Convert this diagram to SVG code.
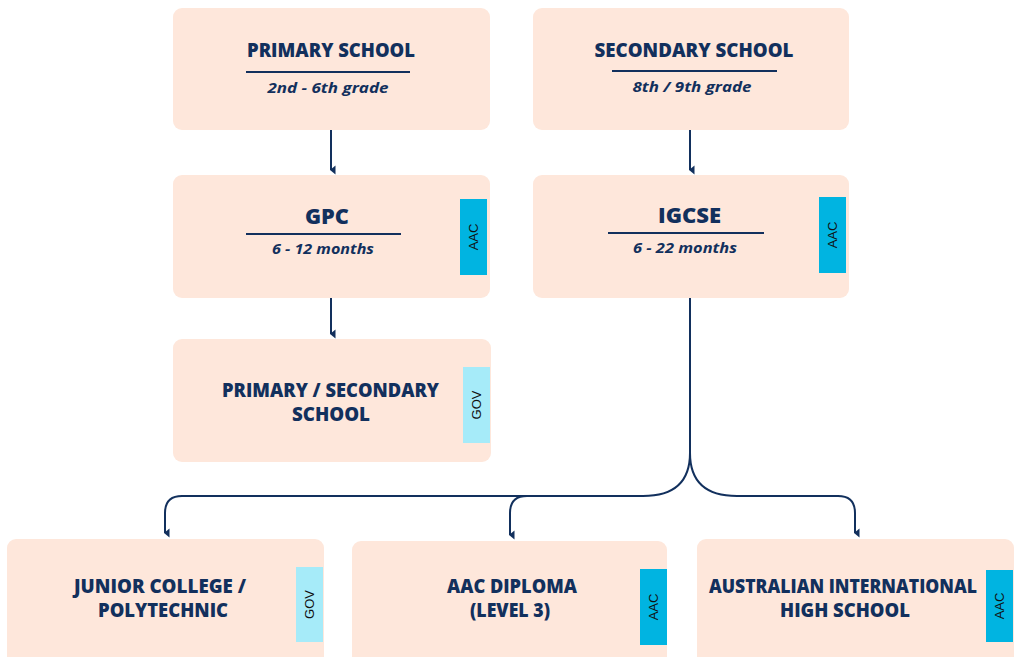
<svg xmlns="http://www.w3.org/2000/svg" width="1020" height="657" viewBox="0 0 1020 657">
<style>
.box{fill:#FEE7DB}
.t{font-family:"Open Sans","Liberation Sans",sans-serif;font-weight:800;fill:#12305D;text-anchor:middle}
.title{font-size:19px}
.big{font-size:21px}
.sub{font-size:14.5px;font-style:italic;font-weight:700}
.ul{stroke:#12305D;stroke-width:2}
.aac{fill:#00B4E1}
.gov{fill:#A6EBF9}
.tag{font-family:"Liberation Sans",Arial,sans-serif;font-size:13px;fill:#111;text-anchor:middle}
.c{fill:none;stroke:#12305D;stroke-width:2}
</style>
<defs>
<marker id="ah" markerWidth="10" markerHeight="8" refX="5" refY="6" orient="auto" markerUnits="userSpaceOnUse" viewBox="0 0 10 8">
<path d="M0.5,1.5 L9.5,1.5 L5,7 Z" fill="#12305D"/>
</marker>
</defs>
<rect width="1020" height="657" fill="#FFFFFF"/>

<g id="connectors">
<path class="c" d="M331,130 V170" marker-end="url(#ah)"/>
<path class="c" d="M690,130 V170" marker-end="url(#ah)"/>
<path class="c" d="M331,298 V334" marker-end="url(#ah)"/>
<path class="c" d="M690,298 V453 Q690,496 643,496 H182 Q165,496 165,513 V533" marker-end="url(#ah)"/>
<path class="c" d="M527,496 Q510,496 510,513 V535" marker-end="url(#ah)"/>
<path class="c" d="M690,453 Q690,496 737,496 H838 Q855,496 855,513 V533" marker-end="url(#ah)"/>
</g>

<g id="primary-school">
<rect class="box" x="173" y="8" width="317" height="122" rx="9"/>
<text class="t title" x="331" y="57" textLength="168" lengthAdjust="spacingAndGlyphs">PRIMARY SCHOOL</text>
<line class="ul" x1="246" y1="72" x2="410" y2="72"/>
<text class="t sub" x="328" y="93" textLength="121" lengthAdjust="spacingAndGlyphs">2nd - 6th grade</text>
</g>

<g id="secondary-school">
<rect class="box" x="533" y="8" width="316" height="122" rx="9"/>
<text class="t title" x="694" y="57" textLength="199" lengthAdjust="spacingAndGlyphs">SECONDARY SCHOOL</text>
<line class="ul" x1="612" y1="71" x2="777" y2="71"/>
<text class="t sub" x="692" y="92" textLength="119" lengthAdjust="spacingAndGlyphs">8th / 9th grade</text>
</g>

<g id="gpc">
<rect class="box" x="173" y="175" width="317" height="123" rx="9"/>
<text class="t big" x="327" y="224" textLength="44" lengthAdjust="spacingAndGlyphs">GPC</text>
<line class="ul" x1="246" y1="234" x2="401" y2="234"/>
<text class="t sub" x="323" y="254" textLength="102" lengthAdjust="spacingAndGlyphs">6 - 12 months</text>
<rect class="aac" x="460" y="199" width="27" height="76"/>
<text class="tag" transform="translate(477.5,237) rotate(-90)">AAC</text>
</g>

<g id="igcse">
<rect class="box" x="533" y="175" width="316" height="123" rx="9"/>
<text class="t big" x="689.5" y="223" textLength="63" lengthAdjust="spacingAndGlyphs">IGCSE</text>
<line class="ul" x1="608" y1="233" x2="764" y2="233"/>
<text class="t sub" x="685" y="253" textLength="104" lengthAdjust="spacingAndGlyphs">6 - 22 months</text>
<rect class="aac" x="819" y="197" width="27" height="76"/>
<text class="tag" transform="translate(836.5,235) rotate(-90)">AAC</text>
</g>

<g id="primary-secondary-school">
<rect class="box" x="173" y="339" width="318" height="123" rx="9"/>
<text class="t title" x="330.5" y="397" textLength="217" lengthAdjust="spacingAndGlyphs">PRIMARY / SECONDARY</text>
<text class="t title" x="331" y="421" textLength="78" lengthAdjust="spacingAndGlyphs">SCHOOL</text>
<rect class="gov" x="463" y="367" width="27" height="76"/>
<text class="tag" transform="translate(480.5,405) rotate(-90)">GOV</text>
</g>

<g id="junior-college">
<rect class="box" x="7" y="539" width="317" height="140" rx="9"/>
<text class="t title" x="160" y="593" textLength="172" lengthAdjust="spacingAndGlyphs">JUNIOR COLLEGE /</text>
<text class="t title" x="163" y="617" textLength="130" lengthAdjust="spacingAndGlyphs">POLYTECHNIC</text>
<rect class="gov" x="296" y="567" width="27" height="75"/>
<text class="tag" transform="translate(313.5,604.5) rotate(-90)">GOV</text>
</g>

<g id="aac-diploma">
<rect class="box" x="352" y="541" width="315" height="140" rx="9"/>
<text class="t title" x="512" y="593" textLength="130" lengthAdjust="spacingAndGlyphs">AAC DIPLOMA</text>
<text class="t title" x="510" y="617" textLength="80" lengthAdjust="spacingAndGlyphs">(LEVEL 3)</text>
<rect class="aac" x="640" y="569" width="27" height="76"/>
<text class="tag" transform="translate(657.5,607) rotate(-90)">AAC</text>
</g>

<g id="australian-international-high-school">
<rect class="box" x="697" y="539" width="317" height="140" rx="9"/>
<text class="t title" x="843" y="593" textLength="268" lengthAdjust="spacingAndGlyphs">AUSTRALIAN INTERNATIONAL</text>
<text class="t title" x="845" y="617" textLength="130" lengthAdjust="spacingAndGlyphs">HIGH SCHOOL</text>
<rect class="aac" x="986" y="570" width="27" height="72"/>
<text class="tag" transform="translate(1003.5,606) rotate(-90)">AAC</text>
</g>
</svg>
